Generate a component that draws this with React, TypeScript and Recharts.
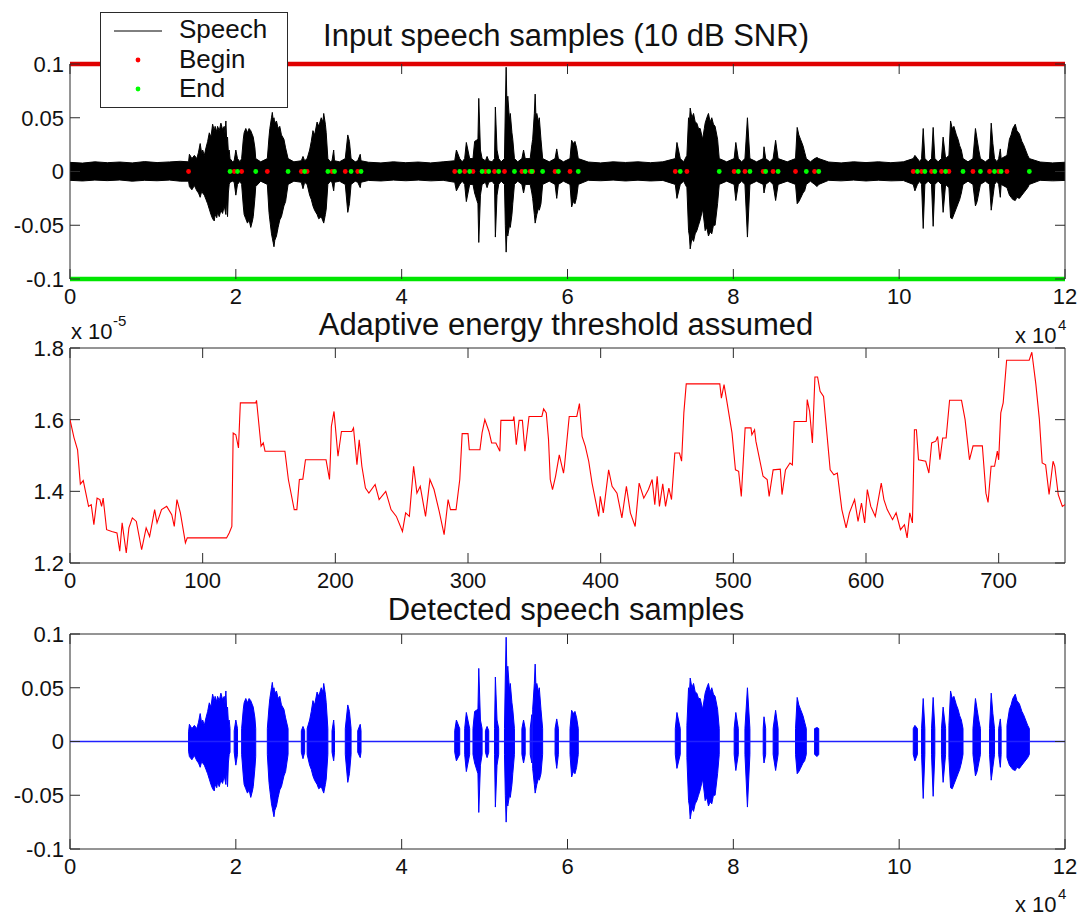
import React from "react";
import {
  ComposedChart,
  LineChart,
  Line,
  Area,
  Scatter,
  XAxis,
  YAxis,
  ReferenceLine,
  ReferenceArea,
  Legend,
} from "recharts";

const FONT = '"Liberation Sans", Arial, Helvetica, sans-serif';
const AXIS = "#2a2a2a";
const CHART_W = 1081;
const PLOT_W = 995;
const PLOT_H = 215;

// sample index axis, in units of 10^4
const timeTicks = [0, 2, 4, 6, 8, 10, 12];
const timeTickLabels = ["0", "2", "4", "6", "8", "10", "12"];
const ampTicks = [-0.1, -0.05, 0, 0.05, 0.1];
const ampTickLabels = ["-0.1", "-0.05", "0", "0.05", "0.1"];

// frame axis of the threshold plot, threshold in units of 10^-5
const frameTicks = [0, 100, 200, 300, 400, 500, 600, 700];
const frameTickLabels = ["0", "100", "200", "300", "400", "500", "600", "700"];
const thrTicks = [1.2, 1.4, 1.6, 1.8];
const thrTickLabels = ["1.2", "1.4", "1.6", "1.8"];

// marker levels drawn as the thick red / green lines
const beginLevel = 0.1;
const endLevel = -0.1;

// detected speech begin / end points (x 10^4 samples)
const beginX = [
  1.43, 1.98, 2.07, 2.38, 2.79, 2.86, 3.16, 3.32, 3.47,
  4.64, 4.76, 4.86, 5.01, 5.12, 5.24, 5.45, 5.55, 5.58, 5.85, 6.03,
  7.3, 7.44, 8.01, 8.14, 8.36, 8.48, 8.75, 8.98,
  10.17, 10.27, 10.39, 10.51, 10.6, 10.89, 11.09, 11.2, 11.3,
];
const endX = [
  1.93, 2.02, 2.24, 2.63, 2.83, 3.11, 3.19, 3.39, 3.51,
  4.7, 4.82, 4.97, 5.05, 5.17, 5.36, 5.49, 5.57, 5.7, 5.89, 6.13,
  7.36, 7.83, 8.06, 8.2, 8.39, 8.54, 8.88, 9.03,
  10.22, 10.31, 10.43, 10.56, 10.77, 10.98, 11.15, 11.23, 11.57,
];

// waveform envelope: [x (10^4), upper, lower]
const inputEnvelope: [number, number, number][] = [
  [0, 0.0085, -0.0082], [0.15, 0.0078, -0.0088], [0.3, 0.009, -0.008], [0.45, 0.0082, -0.0085],
  [0.6, 0.0088, -0.0079], [0.75, 0.008, -0.009], [0.9, 0.0092, -0.0082], [1.05, 0.0083, -0.0086],
  [1.2, 0.0089, -0.008], [1.33, 0.0095, -0.009],
  [1.43, 0.009, -0.009], [1.44, 0.016, -0.014], [1.47, 0.012, -0.017], [1.5, 0.015, -0.013],
  [1.53, 0.012, -0.018], [1.55, 0.018, -0.02], [1.57, 0.026, -0.024], [1.59, 0.016, -0.018],
  [1.6, 0.02, -0.02], [1.62, 0.015, -0.022], [1.64, 0.022, -0.026], [1.66, 0.028, -0.03],
  [1.68, 0.036, -0.035], [1.7, 0.032, -0.04], [1.72, 0.044, -0.044], [1.74, 0.038, -0.046],
  [1.75, 0.042, -0.04], [1.77, 0.037, -0.043], [1.78, 0.042, -0.038], [1.8, 0.038, -0.042],
  [1.82, 0.045, -0.036], [1.84, 0.039, -0.039], [1.86, 0.042, -0.032], [1.87, 0.035, -0.036],
  [1.88, 0.047, -0.04], [1.89, 0.028, -0.025], [1.9, 0.032, -0.042], [1.91, 0.018, -0.02],
  [1.92, 0.02, -0.012], [1.93, 0.012, -0.01], [1.96, 0.009, -0.009],
  [1.98, 0.01, -0.01], [2.0, 0.02, -0.022], [2.02, 0.012, -0.012], [2.05, 0.009, -0.009],
  [2.07, 0.012, -0.012], [2.09, 0.03, -0.032], [2.1, 0.036, -0.04], [2.12, 0.04, -0.044],
  [2.14, 0.036, -0.048], [2.16, 0.04, -0.045], [2.18, 0.038, -0.052], [2.2, 0.034, -0.046],
  [2.21, 0.032, -0.042], [2.23, 0.022, -0.025], [2.24, 0.012, -0.014], [2.3, 0.009, -0.009],
  [2.38, 0.012, -0.012], [2.4, 0.032, -0.038], [2.41, 0.04, -0.045], [2.43, 0.05, -0.058],
  [2.44, 0.055, -0.062], [2.45, 0.048, -0.066], [2.46, 0.05, -0.07], [2.47, 0.045, -0.064],
  [2.49, 0.047, -0.06], [2.51, 0.04, -0.052], [2.53, 0.042, -0.045], [2.55, 0.034, -0.042],
  [2.58, 0.03, -0.032], [2.6, 0.022, -0.028], [2.63, 0.012, -0.012], [2.7, 0.009, -0.009],
  [2.79, 0.01, -0.01], [2.81, 0.014, -0.016], [2.83, 0.01, -0.01],
  [2.86, 0.012, -0.012], [2.89, 0.02, -0.022], [2.91, 0.028, -0.026], [2.93, 0.038, -0.032],
  [2.95, 0.034, -0.036], [2.98, 0.046, -0.04], [3.0, 0.042, -0.044], [3.03, 0.05, -0.042],
  [3.05, 0.046, -0.046], [3.06, 0.054, -0.048], [3.08, 0.044, -0.04], [3.09, 0.036, -0.035],
  [3.11, 0.012, -0.012], [3.14, 0.009, -0.009],
  [3.16, 0.01, -0.01], [3.18, 0.02, -0.018], [3.19, 0.01, -0.01], [3.25, 0.009, -0.009],
  [3.32, 0.012, -0.012], [3.35, 0.034, -0.038], [3.37, 0.028, -0.03], [3.39, 0.012, -0.012],
  [3.44, 0.009, -0.009],
  [3.47, 0.01, -0.01], [3.5, 0.016, -0.015], [3.51, 0.01, -0.01],
  [3.6, 0.0086, -0.0083], [3.75, 0.008, -0.0088], [3.9, 0.009, -0.008], [4.05, 0.0082, -0.0086],
  [4.2, 0.0088, -0.008], [4.35, 0.008, -0.0087], [4.5, 0.009, -0.0082],
  [4.64, 0.01, -0.01], [4.66, 0.02, -0.018], [4.7, 0.012, -0.012], [4.73, 0.009, -0.009],
  [4.76, 0.012, -0.012], [4.78, 0.027, -0.028], [4.82, 0.012, -0.012],
  [4.86, 0.012, -0.012], [4.88, 0.028, -0.02], [4.92, 0.03, -0.03], [4.93, 0.068, -0.066],
  [4.95, 0.02, -0.022], [4.97, 0.012, -0.012],
  [5.01, 0.01, -0.01], [5.03, 0.014, -0.015], [5.05, 0.01, -0.01], [5.09, 0.009, -0.009],
  [5.12, 0.012, -0.012], [5.13, 0.06, -0.061], [5.15, 0.02, -0.022], [5.17, 0.012, -0.012],
  [5.2, 0.009, -0.009],
  [5.24, 0.012, -0.012], [5.25, 0.06, -0.05], [5.26, 0.097, -0.075], [5.27, 0.06, -0.056],
  [5.28, 0.07, -0.06], [5.3, 0.048, -0.05], [5.31, 0.054, -0.052], [5.33, 0.036, -0.04],
  [5.34, 0.03, -0.03], [5.36, 0.012, -0.012], [5.4, 0.009, -0.009],
  [5.45, 0.012, -0.012], [5.47, 0.02, -0.02], [5.49, 0.012, -0.012],
  [5.55, 0.012, -0.012], [5.57, 0.025, -0.02],
  [5.58, 0.03, -0.025], [5.6, 0.054, -0.04], [5.61, 0.072, -0.048], [5.62, 0.05, -0.044],
  [5.63, 0.054, -0.04], [5.65, 0.046, -0.034], [5.66, 0.05, -0.036], [5.68, 0.03, -0.03],
  [5.7, 0.012, -0.012], [5.78, 0.009, -0.009],
  [5.85, 0.012, -0.012], [5.87, 0.021, -0.025], [5.89, 0.012, -0.012], [5.95, 0.009, -0.009],
  [6.03, 0.012, -0.012], [6.05, 0.029, -0.033], [6.07, 0.026, -0.028], [6.09, 0.028, -0.03],
  [6.11, 0.022, -0.024], [6.13, 0.012, -0.012],
  [6.25, 0.0088, -0.0082], [6.4, 0.008, -0.0086], [6.55, 0.009, -0.008], [6.7, 0.0084, -0.0088],
  [6.85, 0.009, -0.0081], [7.0, 0.0082, -0.0088], [7.15, 0.009, -0.0083],
  [7.3, 0.012, -0.012], [7.32, 0.027, -0.025], [7.36, 0.012, -0.012], [7.4, 0.009, -0.009],
  [7.44, 0.015, -0.015], [7.46, 0.05, -0.055], [7.47, 0.044, -0.06], [7.48, 0.059, -0.072],
  [7.5, 0.05, -0.062], [7.52, 0.054, -0.065], [7.54, 0.046, -0.058], [7.56, 0.045, -0.055],
  [7.58, 0.04, -0.05], [7.6, 0.04, -0.045], [7.63, 0.03, -0.035], [7.65, 0.04, -0.048],
  [7.66, 0.045, -0.055], [7.68, 0.05, -0.052], [7.7, 0.054, -0.06], [7.72, 0.046, -0.056],
  [7.74, 0.05, -0.058], [7.76, 0.044, -0.05], [7.78, 0.042, -0.05], [7.81, 0.03, -0.03],
  [7.83, 0.012, -0.012], [7.92, 0.009, -0.009],
  [8.01, 0.012, -0.012], [8.03, 0.027, -0.027], [8.06, 0.012, -0.012], [8.1, 0.009, -0.009],
  [8.14, 0.012, -0.012], [8.17, 0.05, -0.061], [8.2, 0.012, -0.012], [8.28, 0.009, -0.009],
  [8.36, 0.012, -0.012], [8.37, 0.023, -0.02], [8.39, 0.012, -0.012], [8.44, 0.009, -0.009],
  [8.48, 0.012, -0.012], [8.51, 0.029, -0.027], [8.54, 0.012, -0.012], [8.65, 0.009, -0.009],
  [8.75, 0.012, -0.012], [8.77, 0.041, -0.03], [8.79, 0.034, -0.028], [8.81, 0.03, -0.025],
  [8.84, 0.024, -0.02], [8.86, 0.018, -0.018], [8.88, 0.012, -0.012], [8.93, 0.009, -0.009],
  [8.98, 0.012, -0.012], [9.01, 0.013, -0.014], [9.03, 0.012, -0.012],
  [9.15, 0.0088, -0.0082], [9.3, 0.008, -0.0087], [9.45, 0.009, -0.008], [9.6, 0.0083, -0.0088],
  [9.75, 0.009, -0.0081], [9.9, 0.0082, -0.0087], [10.05, 0.009, -0.0084],
  [10.17, 0.012, -0.012], [10.19, 0.015, -0.018], [10.22, 0.012, -0.012], [10.25, 0.009, -0.009],
  [10.27, 0.012, -0.012], [10.29, 0.04, -0.053], [10.31, 0.012, -0.012], [10.35, 0.009, -0.009],
  [10.39, 0.012, -0.012], [10.41, 0.041, -0.051], [10.43, 0.012, -0.012], [10.47, 0.009, -0.009],
  [10.51, 0.012, -0.012], [10.53, 0.032, -0.038], [10.56, 0.012, -0.012],
  [10.6, 0.015, -0.015], [10.62, 0.047, -0.043], [10.64, 0.04, -0.044], [10.66, 0.042, -0.04],
  [10.69, 0.034, -0.034], [10.71, 0.03, -0.03], [10.73, 0.024, -0.026], [10.75, 0.02, -0.02],
  [10.77, 0.012, -0.012], [10.83, 0.009, -0.009],
  [10.89, 0.012, -0.012], [10.92, 0.04, -0.032], [10.94, 0.03, -0.028], [10.96, 0.02, -0.02],
  [10.98, 0.012, -0.012], [11.04, 0.009, -0.009],
  [11.09, 0.012, -0.012], [11.11, 0.045, -0.036], [11.13, 0.026, -0.024], [11.15, 0.012, -0.012],
  [11.18, 0.009, -0.009],
  [11.2, 0.012, -0.012], [11.22, 0.021, -0.024], [11.23, 0.012, -0.012],
  [11.3, 0.015, -0.015], [11.33, 0.03, -0.022], [11.35, 0.034, -0.024], [11.37, 0.04, -0.026],
  [11.4, 0.044, -0.027], [11.42, 0.038, -0.024], [11.45, 0.035, -0.025], [11.48, 0.028, -0.022],
  [11.5, 0.025, -0.02], [11.55, 0.015, -0.015], [11.57, 0.012, -0.012],
  [11.7, 0.0088, -0.0082], [11.85, 0.008, -0.0087], [12, 0.0086, -0.0083],
];

// adaptive energy threshold: [frame, value x 10^-5]
const threshold: [number, number][] = [
  [0, 1.6], [3, 1.55], [5.7, 1.516], [7.8, 1.42], [10, 1.43], [11.4, 1.405], [14, 1.358],
  [16, 1.363], [18, 1.307], [20.4, 1.381], [22.5, 1.377], [23.8, 1.358], [25, 1.381],
  [27.6, 1.293], [31.5, 1.288], [35.4, 1.284], [37.5, 1.233], [39.3, 1.312], [42.4, 1.228],
  [44.4, 1.298], [47, 1.326], [50, 1.316], [54, 1.237], [57.4, 1.298], [60, 1.274],
  [63.8, 1.349], [65.6, 1.312], [69, 1.349], [72.9, 1.358], [76.7, 1.335], [78.6, 1.302],
  [80.6, 1.377], [83.2, 1.34], [87, 1.256], [88.4, 1.27], [118, 1.27], [120, 1.284],
  [122, 1.302], [123, 1.563], [125, 1.558], [127, 1.521], [128.4, 1.647], [140, 1.647],
  [140.6, 1.654], [144, 1.526], [145.7, 1.535], [147, 1.512], [162, 1.512], [164.6, 1.433],
  [169, 1.349], [171, 1.349], [172.9, 1.433], [175.5, 1.434], [177.5, 1.488], [193, 1.488],
  [195.6, 1.433], [196.4, 1.507], [197, 1.581], [199, 1.623], [202, 1.498], [204.6, 1.567],
  [212.4, 1.567], [213.7, 1.577], [216.3, 1.474], [218, 1.544], [220, 1.47], [222.7, 1.409],
  [225.3, 1.395], [230, 1.419], [233, 1.377], [238, 1.4], [242, 1.349], [246, 1.33],
  [250.6, 1.288], [253, 1.34], [255.8, 1.33], [259, 1.47], [261.5, 1.395], [264, 1.414],
  [268, 1.33], [271.3, 1.433], [274.4, 1.405], [278.3, 1.344], [282, 1.279], [285, 1.377],
  [286.8, 1.349], [291, 1.349], [293.8, 1.433], [295.6, 1.561], [300, 1.561], [301, 1.516],
  [309, 1.516], [310.6, 1.563], [312.7, 1.6], [315.8, 1.567], [317.8, 1.535], [321, 1.535],
  [324, 1.512], [324.8, 1.598], [334, 1.598], [334.6, 1.609], [336.4, 1.53], [338.5, 1.598],
  [341, 1.598], [342.9, 1.512], [346, 1.609], [355.7, 1.609], [357, 1.63], [359, 1.619],
  [360.7, 1.544], [362, 1.433], [363.7, 1.405], [366, 1.442], [368.8, 1.502], [372, 1.451],
  [372.8, 1.474], [376.3, 1.609], [382, 1.609], [384, 1.645], [386, 1.553], [388.4, 1.526],
  [391, 1.484], [393.5, 1.423], [398.5, 1.33], [399.7, 1.386], [402, 1.34], [406, 1.46],
  [408.6, 1.414], [412.3, 1.395], [416, 1.326], [419.4, 1.414], [422.4, 1.34], [426, 1.302],
  [429, 1.423], [432.5, 1.381], [436, 1.405], [438.8, 1.433], [440.8, 1.363], [442.6, 1.442],
  [444.3, 1.358], [446.8, 1.421], [448.9, 1.358], [451.4, 1.409], [453.4, 1.377],
  [455.9, 1.507], [459.4, 1.507], [461, 1.484], [462.7, 1.619], [464.5, 1.7], [489.8, 1.7],
  [491, 1.66], [493, 1.698], [495, 1.654], [499, 1.563], [501.6, 1.46], [504, 1.456],
  [506, 1.386], [508.9, 1.577], [513.3, 1.577], [514, 1.558], [516, 1.572], [517, 1.54],
  [522.4, 1.442], [525.5, 1.433], [527, 1.386], [530, 1.46], [535.4, 1.462], [536.7, 1.391],
  [539.3, 1.46], [542.7, 1.479], [544.5, 1.474], [545.8, 1.595], [555, 1.595], [555.7, 1.656],
  [557.5, 1.623], [559.6, 1.535], [561.5, 1.719], [563.5, 1.719], [565.4, 1.679], [568, 1.665],
  [573, 1.46], [575.8, 1.446], [578.4, 1.451], [581.8, 1.349], [585, 1.298], [587.5, 1.34],
  [591.4, 1.377], [594, 1.316], [596.6, 1.367], [599, 1.312], [601, 1.405], [603.6, 1.358],
  [607, 1.33], [611.5, 1.423], [613.5, 1.377], [616, 1.349], [620, 1.321], [622.7, 1.34],
  [626, 1.293], [629, 1.307], [631, 1.27], [633, 1.34], [635, 1.312], [636.5, 1.572],
  [638, 1.572], [639.6, 1.488], [645, 1.484], [647.4, 1.451], [649.5, 1.535], [652.6, 1.54],
  [654, 1.553], [655.7, 1.488], [657.8, 1.549], [660.4, 1.549], [663, 1.654], [672, 1.654],
  [674.7, 1.6], [678, 1.488], [680.7, 1.527], [687.7, 1.527], [690.4, 1.395], [692, 1.369],
  [694.3, 1.47], [696.9, 1.47], [699, 1.512], [700, 1.488], [701.6, 1.619], [703.4, 1.647],
  [706, 1.766], [723, 1.766], [725, 1.788], [728, 1.7], [730.7, 1.6], [732.8, 1.479],
  [735.4, 1.474], [738, 1.391], [741, 1.484], [742.3, 1.47], [744.9, 1.391], [748, 1.358],
  [750, 1.363],
];

const inputBand = inputEnvelope.map(([x, hi, lo]) => ({ x, band: [lo, hi] }));

// keep the samples between each begin/end pair, zero elsewhere
const inSegment = (x: number) => beginX.some((b, i) => x >= b && x <= endX[i]);
const detectedBand = inputEnvelope.flatMap(([x, hi, lo]) => {
  const speech = { x, band: [lo, hi] };
  const silent = { x, band: [0, 0] };
  if (beginX.includes(x)) return [silent, speech];
  if (endX.includes(x)) return [speech, silent];
  return inSegment(x) ? [speech] : [silent];
});

const beginPoints = beginX.map((x) => ({ x, y: 0 }));
const endPoints = endX.map((x) => ({ x, y: 0 }));
const thresholdData = threshold.map(([frame, value]) => ({ frame, value }));

const makeYTick = (ticks: number[], labels: string[]) => (props: any) => {
  const { x, y, payload } = props;
  const label = labels[ticks.indexOf(payload.value)];
  return (
    <g>
      <line x1={x} x2={x + 10} y1={y} y2={y} stroke={AXIS} />
      <line x1={x + PLOT_W - 10} x2={x + PLOT_W} y1={y} y2={y} stroke={AXIS} />
      <text x={x - 6} y={y} dy="0.36em" textAnchor="end" fontSize={22} fontFamily={FONT} fill="#111">
        {label}
      </text>
    </g>
  );
};

const makeXTick = (ticks: number[], labels: string[]) => (props: any) => {
  const { x, y, payload } = props;
  const label = labels[ticks.indexOf(payload.value)];
  return (
    <g>
      <line x1={x} x2={x} y1={y} y2={y - 10} stroke={AXIS} />
      <line x1={x} x2={x} y1={y - PLOT_H} y2={y - PLOT_H + 10} stroke={AXIS} />
      <text x={x} y={y + 25} textAnchor="middle" fontSize={22} fontFamily={FONT} fill="#111">
        {label}
      </text>
    </g>
  );
};

const SpeechLegend = () => (
  <div
    style={{
      width: 188,
      height: 96,
      boxSizing: "border-box",
      border: `1px solid ${AXIS}`,
      background: "#fff",
    }}>
    <svg width={186} height={94} style={{ display: "block" }}>
      <line x1={13} x2={61} y1={18} y2={18} stroke="#000" strokeWidth={1} />
      <circle cx={37} cy={47} r={2.4} fill="#ff0000" />
      <circle cx={37} cy={76} r={2.4} fill="#00ff00" />
      <g fontFamily={FONT} fontSize={26} fill="#111">
        <text x={78} y={25}>Speech</text>
        <text x={78} y={55}>Begin</text>
        <text x={78} y={84}>End</text>
      </g>
    </svg>
  </div>
);

const dotShape = (color: string) => (props: any) =>
  <circle cx={props.cx} cy={props.cy} r={2.4} fill={color} />;

const axisCommon = {
  axisLine: false,
  tickLine: false,
  tickSize: 0,
  tickMargin: 0,
  interval: 0 as const,
  allowDataOverflow: true,
};

const App: React.FC = () => {
  return (
    <div style={{ position: "absolute", left: 0, top: 0, width: CHART_W, height: 917, background: "#fff" }}>
      {/* input speech */}
      <div style={{ position: "absolute", left: 0, top: 0 }}>
        <ComposedChart width={CHART_W} height={320} data={inputBand} margin={{ top: 64, right: 16, left: 0, bottom: 0 }}>
          <XAxis type="number" dataKey="x" domain={[0, 12]} ticks={timeTicks} height={41}
            tick={makeXTick(timeTicks, timeTickLabels)} {...axisCommon} />
          <YAxis type="number" domain={[-0.1, 0.1]} ticks={ampTicks} width={70}
            tick={makeYTick(ampTicks, ampTickLabels)} {...axisCommon} />
          <Area dataKey="band" type="linear" stroke="#000" strokeWidth={1} fill="#000" fillOpacity={1}
            dot={false} activeDot={false} isAnimationActive={false} />
          <ReferenceLine y={beginLevel} stroke="#e00000" strokeWidth={4.5} />
          <ReferenceLine y={endLevel} stroke="#00e600" strokeWidth={4.5} />
          <Scatter data={beginPoints} dataKey="y" shape={dotShape("#ff0000")} isAnimationActive={false} />
          <Scatter data={endPoints} dataKey="y" shape={dotShape("#00ff00")} isAnimationActive={false} />
          <ReferenceArea x1={0} x2={12} y1={-0.1} y2={0.1} fill="none" fillOpacity={0} stroke={AXIS} strokeWidth={1} />
          <Legend layout="horizontal" verticalAlign="middle" content={() => <SpeechLegend />}
            wrapperStyle={{ position: "absolute", left: 100, top: 12, width: 188, height: 96 }} />
        </ComposedChart>
      </div>

      {/* adaptive threshold */}
      <div style={{ position: "absolute", left: 0, top: 320 }}>
        <LineChart width={CHART_W} height={280} data={thresholdData} margin={{ top: 28, right: 16, left: 0, bottom: 0 }}>
          <XAxis type="number" dataKey="frame" domain={[0, 750]} ticks={frameTicks} height={37}
            tick={makeXTick(frameTicks, frameTickLabels)} {...axisCommon} />
          <YAxis type="number" domain={[1.2, 1.8]} ticks={thrTicks} width={70}
            tick={makeYTick(thrTicks, thrTickLabels)} {...axisCommon} />
          <Line dataKey="value" type="linear" stroke="#ff0000" strokeWidth={1.1} dot={false} activeDot={false}
            isAnimationActive={false} />
          <ReferenceArea x1={0} x2={750} y1={1.2} y2={1.8} fill="none" fillOpacity={0} stroke={AXIS} strokeWidth={1} />
        </LineChart>
      </div>

      {/* detected speech */}
      <div style={{ position: "absolute", left: 0, top: 600 }}>
        <ComposedChart width={CHART_W} height={317} data={detectedBand} margin={{ top: 34, right: 16, left: 0, bottom: 0 }}>
          <XAxis type="number" dataKey="x" domain={[0, 12]} ticks={timeTicks} height={68}
            tick={makeXTick(timeTicks, timeTickLabels)} {...axisCommon} />
          <YAxis type="number" domain={[-0.1, 0.1]} ticks={ampTicks} width={70}
            tick={makeYTick(ampTicks, ampTickLabels)} {...axisCommon} />
          <Area dataKey="band" type="linear" stroke="#0000ff" strokeWidth={1} fill="#0000ff" fillOpacity={1}
            dot={false} activeDot={false} isAnimationActive={false} />
          <ReferenceLine y={0} stroke="#2020ff" strokeWidth={1.6} />
          <ReferenceArea x1={0} x2={12} y1={-0.1} y2={0.1} fill="none" fillOpacity={0} stroke={AXIS} strokeWidth={1} />
        </ComposedChart>
      </div>

      {/* titles and axis multipliers */}
      <svg width={CHART_W} height={917} style={{ position: "absolute", left: 0, top: 0, pointerEvents: "none" }}>
        <g fontFamily={FONT} fill="#111" textAnchor="middle" fontSize={31}>
          <text x={566} y={46}>Input speech samples (10 dB SNR)</text>
          <text x={566} y={335}>Adaptive energy threshold assumed</text>
          <text x={566} y={620}>Detected speech samples</text>
        </g>
        <g fontFamily={FONT} fill="#111" fontSize={22}>
          <text x={71} y={339}>x 10</text>
          <text x={113} y={326} fontSize={15}>-5</text>
          <text x={1015} y={343}>x 10</text>
          <text x={1058} y={330} fontSize={15}>4</text>
          <text x={1015} y={912}>x 10</text>
          <text x={1058} y={899} fontSize={15}>4</text>
        </g>
      </svg>
    </div>
  );
};

export default App;
